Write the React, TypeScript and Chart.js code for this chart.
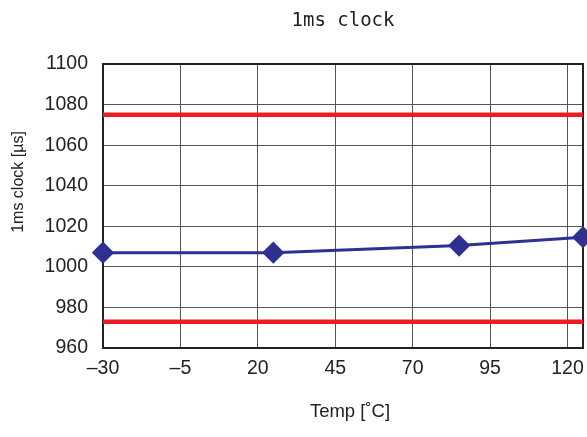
import React, { useEffect, useRef } from "react";
import { Chart, registerables } from "chart.js";

Chart.register(...registerables);

const chartTitle = "1ms clock";
const xTitle = "Temp [˚C]";
const yTitle = "1ms clock [µs]";

const temps = [-30, 25, 85, 125];
const clockValues = [1007, 1007, 1010.5, 1014.6];

const upperLimit = 1075;
const lowerLimit = 973;
const limitSpan = [-30, 125];

const xTicks = [-30, -5, 20, 45, 70, 95, 120];
const yTicks = [960, 980, 1000, 1020, 1040, 1060, 1080, 1100];

const zeroPadding = () => ({ left: 0, top: 0, right: 0, bottom: 0 });

const frameAndTitlesPlugin = {
  id: "frameAndTitles",
  beforeDatasetsDraw(chart: any) {
    const { ctx, chartArea } = chart;
    ctx.save();
    ctx.strokeStyle = "#222";
    ctx.lineWidth = 2;
    ctx.strokeRect(
      chartArea.left,
      chartArea.top,
      chartArea.right - chartArea.left,
      chartArea.bottom - chartArea.top
    );
    ctx.restore();
  },
  afterDraw(chart: any) {
    const { ctx, chartArea } = chart;
    const cx = (chartArea.left + chartArea.right) / 2;
    ctx.save();
    ctx.fillStyle = "#222";
    ctx.textAlign = "center";
    ctx.textBaseline = "middle";
    ctx.font = "19px 'DejaVu Sans Mono', monospace";
    ctx.fillText(chartTitle, cx, 21);
    ctx.font = "18.5px 'Liberation Sans', Arial, sans-serif";
    ctx.fillText(xTitle, cx + 7, 412);
    ctx.translate(19, 182);
    ctx.rotate(-Math.PI / 2);
    ctx.font = "16px 'Liberation Sans', Arial, sans-serif";
    ctx.fillText(yTitle, 0, 0);
    ctx.restore();
  },
};

export default function App() {
  const ref = useRef<HTMLCanvasElement | null>(null);

  useEffect(() => {
    if (!ref.current) return;
    const chart = new Chart(ref.current, {
      type: "line",
      data: {
        datasets: [
          {
            data: limitSpan.map((x) => ({ x, y: upperLimit })),
            borderColor: "#ec1c24",
            borderWidth: 4.5,
            pointRadius: 0,
            order: 2,
          },
          {
            data: limitSpan.map((x) => ({ x, y: lowerLimit })),
            borderColor: "#ec1c24",
            borderWidth: 4.5,
            pointRadius: 0,
            order: 2,
          },
          {
            data: temps.map((x, i) => ({ x, y: clockValues[i] })),
            borderColor: "#2e3192",
            backgroundColor: "#2e3192",
            borderWidth: 3,
            pointStyle: "rectRot",
            pointRadius: 9,
            pointHoverRadius: 9,
            clip: false as any,
            order: 1,
          },
        ],
      },
      options: {
        responsive: false,
        animation: false,
        layout: { autoPadding: false, padding: { top: 64, right: 4, left: 0, bottom: 0 } },
        plugins: {
          legend: { display: false },
          title: { display: false },
          tooltip: { enabled: false },
        },
        scales: {
          x: {
            type: "linear",
            min: -30,
            max: 125,
            afterFit: (s: any) => {
              s.height = 89;
              s.paddingLeft = 0;
              s.paddingRight = 0;
              s.getPadding = zeroPadding;
            },
            afterBuildTicks: (s: any) => {
              s.ticks = xTicks.map((v) => ({ value: v }));
            },
            grid: { color: "#555", lineWidth: 1, drawTicks: false },
            border: { color: "#222", width: 2 },
            ticks: {
              padding: 9,
              color: "#222",
              font: { family: "'Liberation Sans', Arial, sans-serif", size: 19.5 },
              maxRotation: 0,
              autoSkip: false,
              callback: (v: any) => String(v).replace("-", "–"),
            },
          },
          y: {
            type: "linear",
            min: 960,
            max: 1100,
            afterFit: (s: any) => {
              s.width = 103;
              s.paddingTop = 0;
              s.paddingBottom = 0;
              s.getPadding = zeroPadding;
            },
            afterBuildTicks: (s: any) => {
              s.ticks = yTicks.map((v) => ({ value: v }));
            },
            grid: { color: "#555", lineWidth: 1, drawTicks: false },
            border: { color: "#222", width: 2 },
            ticks: {
              padding: 15,
              color: "#222",
              font: { family: "'Liberation Sans', Arial, sans-serif", size: 19.5 },
              autoSkip: false,
              callback: (v: any) => String(v),
            },
          },
        },
      },
      plugins: [frameAndTitlesPlugin],
    });
    return () => chart.destroy();
  }, []);

  return (
    <div style={{ position: "fixed", left: 0, top: 0, width: 587, height: 437, background: "#fff" }}>
      <canvas ref={ref} width={587} height={437} style={{ width: 587, height: 437 }} />
    </div>
  );
}
